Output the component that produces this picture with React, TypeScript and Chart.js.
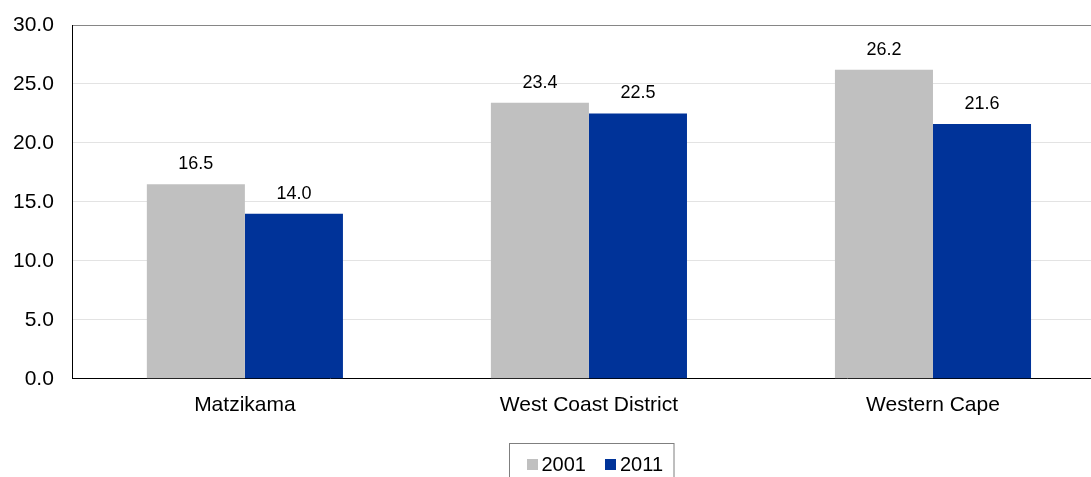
import React, { useEffect, useRef } from 'react';
import { Chart, registerables } from 'chart.js';

Chart.register(...registerables);

const categories = ['Matzikama', 'West Coast District', 'Western Cape'];
const seriesNames = ['2001', '2011'];
const values2001 = [16.5, 23.4, 26.2];
const values2011 = [14.0, 22.5, 21.6];
const seriesColors = ['#C0C0C0', '#003399'];
const yMin = 0;
const yMax = 30;
const yStep = 5;

const FONT = "'Liberation Sans', Arial, sans-serif";

const valueLabelPlugin = {
  id: 'valueLabels',
  afterDatasetsDraw(chart: any) {
    const ctx = chart.ctx;
    ctx.save();
    ctx.font = `18px ${FONT}`;
    ctx.fillStyle = '#000000';
    ctx.textAlign = 'center';
    ctx.textBaseline = 'alphabetic';
    chart.data.datasets.forEach((ds: any, di: number) => {
      const meta = chart.getDatasetMeta(di);
      meta.data.forEach((bar: any, i: number) => {
        const v = ds.data[i] as number;
        ctx.fillText(v.toFixed(1), bar.x, bar.y - 15);
      });
    });
    ctx.restore();
  },
};

const boxLegendPlugin = {
  id: 'boxLegend',
  afterDraw(chart: any) {
    const ctx = chart.ctx;
    const area = chart.chartArea;
    ctx.save();
    ctx.font = `20px ${FONT}`;
    const padL = 17;
    const padR = 11;
    const sq = 11;
    const gapSqText = 4;
    const gapItems = 19;
    const items = chart.data.datasets.map((ds: any) => ({
      label: ds.label as string,
      color: ds.backgroundColor as string,
      w: ctx.measureText(ds.label).width,
    }));
    let total = padL + padR;
    items.forEach((it: any, i: number) => {
      total += sq + gapSqText + it.w + (i > 0 ? gapItems : 0);
    });
    const cx = (area.left + area.right) / 2 + 2;
    const left = Math.round(cx - total / 2) + 0.5;
    const top = chart.height - 34 + 0.5;
    ctx.strokeStyle = '#7f7f7f';
    ctx.lineWidth = 1;
    ctx.strokeRect(left, top, total, 60);
    const cy = top + 21;
    let x = left + padL;
    ctx.textAlign = 'left';
    ctx.textBaseline = 'middle';
    items.forEach((it: any, i: number) => {
      if (i > 0) x += gapItems;
      ctx.fillStyle = it.color;
      ctx.fillRect(Math.round(x), Math.round(cy - sq / 2), sq, sq);
      x += sq + gapSqText;
      ctx.fillStyle = '#000000';
      ctx.fillText(it.label, x, cy + 1);
      x += it.w;
    });
    ctx.restore();
  },
};

export default function App() {
  const canvasRef = useRef<HTMLCanvasElement | null>(null);

  useEffect(() => {
    if (!canvasRef.current) return;
    const chart = new Chart(canvasRef.current, {
      type: 'bar',
      data: {
        labels: categories,
        datasets: [
          {
            label: seriesNames[0],
            data: values2001,
            backgroundColor: seriesColors[0],
            borderWidth: 0,
          },
          {
            label: seriesNames[1],
            data: values2011,
            backgroundColor: seriesColors[1],
            borderWidth: 0,
          },
        ],
      },
      options: {
        animation: false,
        responsive: true,
        maintainAspectRatio: false,
        layout: {
          padding: { left: 0, right: 0, top: 25, bottom: 45 },
        },
        datasets: {
          bar: {
            categoryPercentage: 0.57,
            barPercentage: 1.0,
          },
        },
        plugins: {
          legend: { display: false },
          tooltip: { enabled: false },
          title: { display: false },
        },
        scales: {
          x: {
            grid: { display: false, drawTicks: false },
            border: { display: true, color: '#000000', width: 1 },
            ticks: {
              color: '#000000',
              font: { family: FONT, size: 21 },
              padding: 14,
              maxRotation: 0,
            },
          },
          y: {
            min: yMin,
            max: yMax,
            grid: {
              drawTicks: false,
              color: (c: any) => (c.tick && c.tick.value === yMax ? '#868686' : '#e3e3e3'),
              lineWidth: 1,
            },
            border: { display: true, color: '#000000', width: 1 },
            ticks: {
              stepSize: yStep,
              color: '#000000',
              font: { family: FONT, size: 21, lineHeight: 0.5 },
              padding: 19,
              callback: (v: any) => Number(v).toFixed(1),
            },
          },
        },
      },
      plugins: [valueLabelPlugin, boxLegendPlugin],
    });
    return () => chart.destroy();
  }, []);

  return (
    <div
      style={{
        position: 'fixed',
        left: 0,
        top: 0,
        width: 1091,
        height: 477,
        overflow: 'hidden',
        background: '#ffffff',
      }}
    >
      <div style={{ position: 'relative', width: 1111, height: 477, marginLeft: -6 }}>
        <canvas ref={canvasRef} />
      </div>
    </div>
  );
}
